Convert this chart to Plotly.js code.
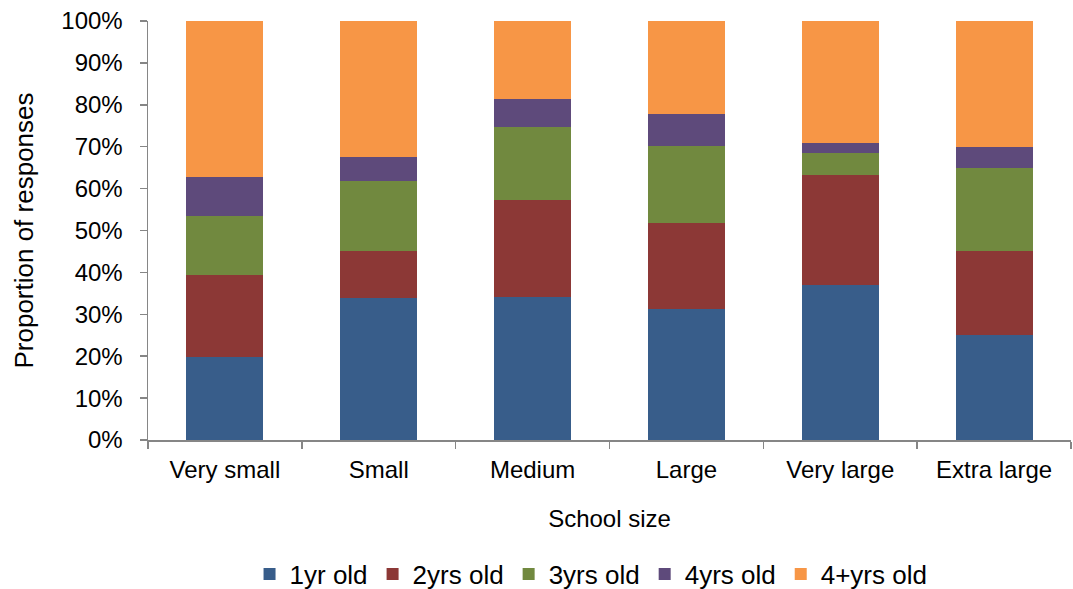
<!DOCTYPE html>
<html>
<head>
<meta charset="utf-8">
<script src="https://cdn.plot.ly/plotly-3.0.1.min.js"></script>
<style>html,body{margin:0;padding:0;background:#fff;}#chart{width:1073px;height:589px;}</style>
</head>
<body>
<div id="chart"></div>
<script>
const categories = ["Very small", "Small", "Medium", "Large", "Very large", "Extra large"];
const seriesNames = ["1yr old", "2yrs old", "3yrs old", "4yrs old", "4+yrs old"];
const oneYr   = [19.8, 33.9, 34.1, 31.2, 36.9, 25.1];
const twoYrs  = [19.7, 11.2, 23.2, 20.7, 26.3, 20.0];
const threeYrs= [13.9, 16.8, 17.3, 18.3, 5.3, 19.9];
const fourYrs = [9.3, 5.6, 6.7, 7.7, 2.5, 4.9];
const fourPlus= [37.3, 32.5, 18.7, 22.1, 29.0, 30.1];
const yTickVals = [0, 10, 20, 30, 40, 50, 60, 70, 80, 90, 100];
const yTickText = ["0%", "10%", "20%", "30%", "40%", "50%", "60%", "70%", "80%", "90%", "100%"];
const colors = ["#385D8A", "#8C3836", "#71893F", "#5E4A7B", "#F79646"];

const seriesData = [oneYr, twoYrs, threeYrs, fourYrs, fourPlus];
const traces = seriesData.map((vals, i) => ({
  type: "bar",
  name: seriesNames[i],
  x: categories,
  y: vals,
  marker: {color: colors[i], line: {width: 0}},
  hoverinfo: "x+y+name"
}));

const font = {family: "Liberation Sans, Arial, sans-serif", size: 24, color: "#000"};
const legendFont = {family: "Liberation Sans, Arial, sans-serif", size: 26, color: "#000"};
const layout = {
  barmode: "stack",
  bargap: 0.5,
  width: 1073,
  height: 589,
  margin: {l: 148, r: 2, t: 21, b: 149, autoexpand: false},
  paper_bgcolor: "#fff",
  plot_bgcolor: "#fff",
  font: font,
  showlegend: true,
  legend: {
    orientation: "h",
    x: 0.48, xanchor: "center",
    y: -0.32, yanchor: "middle",
    font: legendFont,
    traceorder: "normal",
    itemwidth: 30
  },
  xaxis: {
    type: "category",
    showline: true, linecolor: "#868686", linewidth: 1.5,
    ticks: "outside", ticklen: 7, tickcolor: "#868686", tickwidth: 1.5,
    tickson: "boundaries",
    ticklabelstandoff: 8,
    showgrid: false, zeroline: false,
    tickfont: font,
    automargin: false,
    title: {text: "School size", font: font, standoff: 28}
  },
  yaxis: {
    range: [0, 100],
    tickvals: yTickVals, ticktext: yTickText,
    showline: true, linecolor: "#868686", linewidth: 1.5,
    ticks: "outside", ticklen: 7, tickcolor: "#868686", tickwidth: 1.5,
    ticklabelstandoff: 12,
    showgrid: false, zeroline: false,
    tickfont: font,
    automargin: true,
    title: {text: "Proportion of responses", font: {family: "Liberation Sans, Arial, sans-serif", size: 26, color: "#000"}, standoff: 20}
  }
};

Plotly.newPlot("chart", traces, layout, {displayModeBar: false, staticPlot: true});
</script>
</body>
</html>
